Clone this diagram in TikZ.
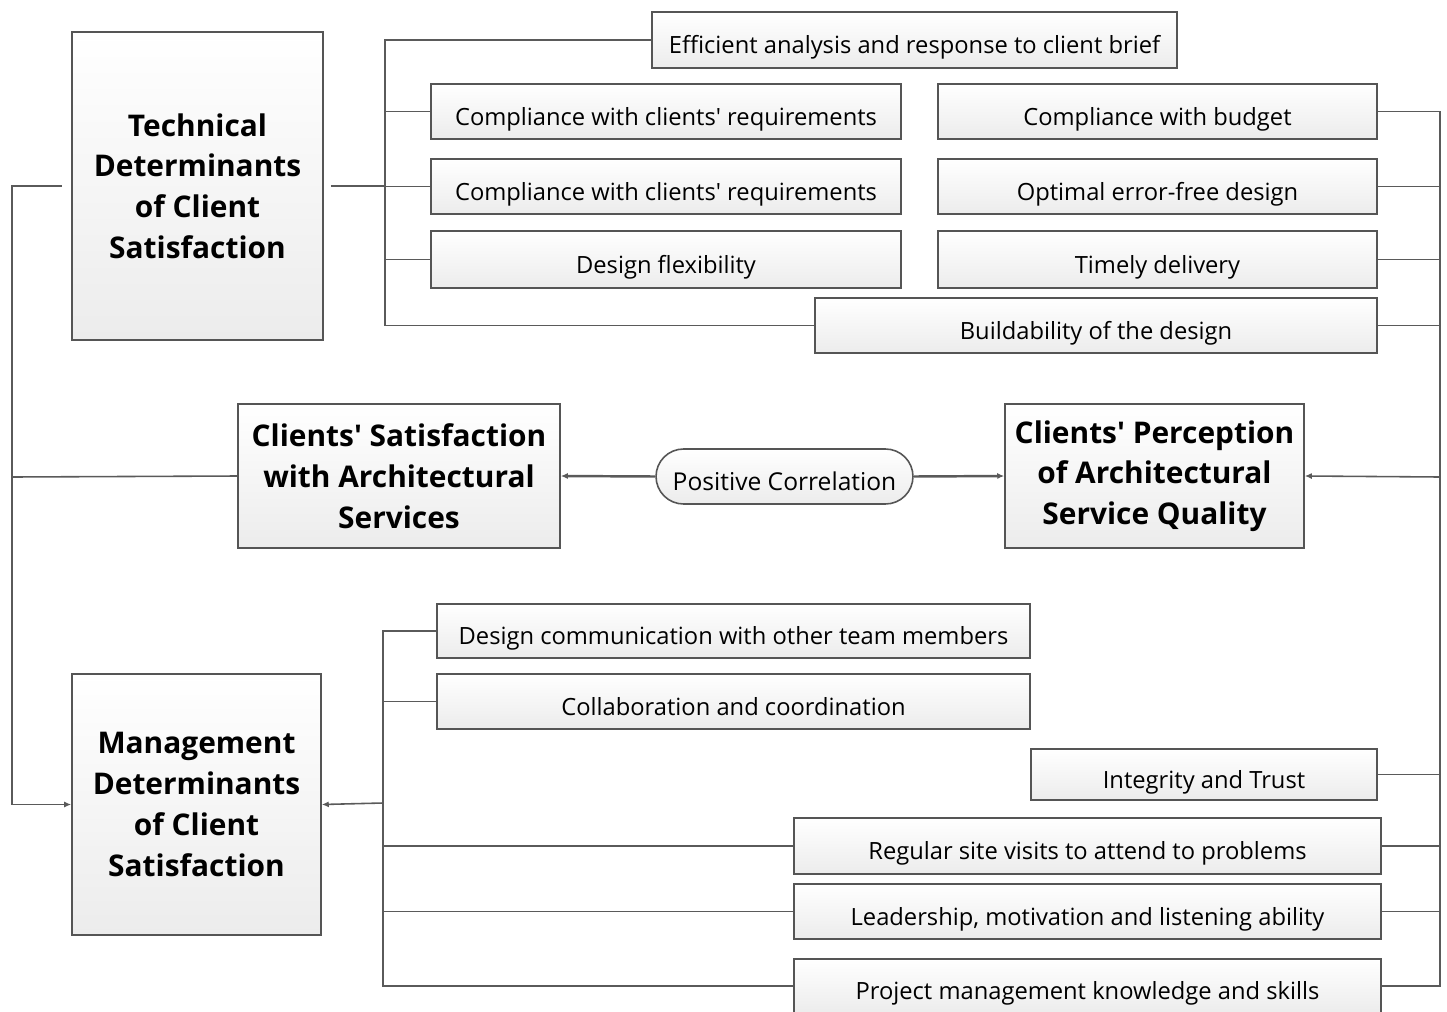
\documentclass[tikz,border=0pt]{standalone}
\usepackage{fontspec}
\setmainfont{Open Sans}
\definecolor{cs_edge}{RGB}{85, 85, 85}
\definecolor{cs_line}{RGB}{90, 90, 90}
\definecolor{cs_shade}{RGB}{236, 236, 236}
\usetikzlibrary{arrows.meta, shapes.misc}

\tikzset{
  leafbox/.style={draw=cs_edge, line width=0.9pt, top color=white, bottom color=cs_shade,
    minimum height=1.1cm, inner sep=0pt, text height=0.58cm, text depth=0.04cm,
    font=\fontsize{13.5}{16}\selectfont},
  headbox/.style={draw=cs_edge, line width=0.9pt, top color=white, bottom color=cs_shade,
    align=center, inner sep=0pt, font=\fontsize{17}{23.2}\selectfont\bfseries},
  link/.style={draw=cs_line, line width=0.9pt},
  tip/.style={-{Latex[length=1.4mm, width=1.2mm]}}
}

\begin{document}
\begin{tikzpicture}[x=0.02cm, y=-0.02cm]
  \useasboundingbox (0,0) rectangle (1447,1011);

  % --- Main blocks ---
  \node[headbox, minimum width=5.02cm, minimum height=6.16cm] (tech) at (197.5,186)
    {Technical\\Determinants\\of Client\\Satisfaction};
  \node[headbox, minimum width=4.98cm, minimum height=5.22cm] (mgmt) at (196.5,804.5)
    {Management\\Determinants\\of Client\\Satisfaction};
  \node[headbox, minimum width=6.44cm, minimum height=2.88cm] (sat) at (399,476)
    {Clients\textquotesingle{} Satisfaction\\with Architectural\\Services};
  \node[headbox, minimum width=5.98cm, minimum height=2.88cm] (perc) at (1154.5,476)
    {Clients\textquotesingle{} Perception\\of Architectural\\Service Quality};
  \node[leafbox, rounded rectangle, minimum width=5.14cm, font=\fontsize{14}{16}\selectfont] (corr) at (784.5,476.5)
    {Positive Correlation};

  % --- Technical items ---
  \node[leafbox, minimum width=10.5cm, minimum height=1.12cm] (brief) at (914.5,40)
    {Efficient analysis and response to client brief};
  \node[leafbox, minimum width=9.4cm] (reqa) at (666,111.5) {Compliance with clients\textquotesingle{} requirements};
  \node[leafbox, minimum width=9.4cm] (reqb) at (666,186.5) {Compliance with clients\textquotesingle{} requirements};
  \node[leafbox, minimum width=9.4cm, minimum height=1.14cm] (flex) at (666,259.5) {Design flexibility};
  \node[leafbox, minimum width=8.78cm] (budget) at (1157.5,111.5) {Compliance with budget};
  \node[leafbox, minimum width=8.78cm] (error) at (1157.5,186.5) {Optimal error-free design};
  \node[leafbox, minimum width=8.78cm, minimum height=1.14cm] (timely) at (1157.5,259.5) {Timely delivery};
  \node[leafbox, minimum width=11.24cm] (build) at (1096,325.5) {Buildability of the design};

  % --- Management items ---
  \node[leafbox, minimum width=11.86cm, minimum height=1.08cm] (comm) at (733.5,631)
    {Design communication with other team members};
  \node[leafbox, minimum width=11.86cm] (collab) at (733.5,701.5) {Collaboration and coordination};
  \node[leafbox, minimum width=6.92cm, minimum height=1.02cm] (trust) at (1204,774.5) {Integrity and Trust};
  \node[leafbox, minimum width=11.74cm, minimum height=1.12cm] (visits) at (1087.5,846)
    {Regular site visits to attend to problems};
  \node[leafbox, minimum width=11.74cm] (lead) at (1087.5,911.5)
    {Leadership, motivation and listening ability};
  \node[leafbox, minimum width=11.74cm, minimum height=1.08cm] (pmk) at (1087.5,986)
    {Project management knowledge and skills};

  % --- Junctions ---
  \coordinate (lk) at (12,477);
  \coordinate (tk) at (385,186);
  \coordinate (mk) at (383,803);
  \coordinate (rk) at (1440,477);

  % Left trunk
  \draw[link] (sat.west) -- (lk);
  \draw[link, shorten >=0.18cm] (lk) |- (tech.west);
  \draw[link, tip] (lk) |- (mgmt.west);

  % Technical branches
  \draw[link, shorten <=0.14cm] (tech.east) -- (tk);
  \foreach \leaf in {brief, reqa, reqb, flex, build}
    \draw[link] (tk) |- (\leaf.west);

  % Management branches
  \draw[link, tip] (mk) -- (mgmt.east);
  \foreach \leaf in {comm, collab, visits, lead, pmk}
    \draw[link] (mk) |- (\leaf.west);

  % Right trunk
  \foreach \leaf in {budget, error, timely, build, trust, visits, lead, pmk}
    \draw[link] (\leaf.east) -| (rk);
  \draw[link, tip] (rk) -- (perc.east);

  % Correlation
  \draw[link, line width=1.4pt, tip] (corr.west) -- (sat.east);
  \draw[link, line width=1.4pt, tip] (corr.east) -- (perc.west);
\end{tikzpicture}
\end{document}
